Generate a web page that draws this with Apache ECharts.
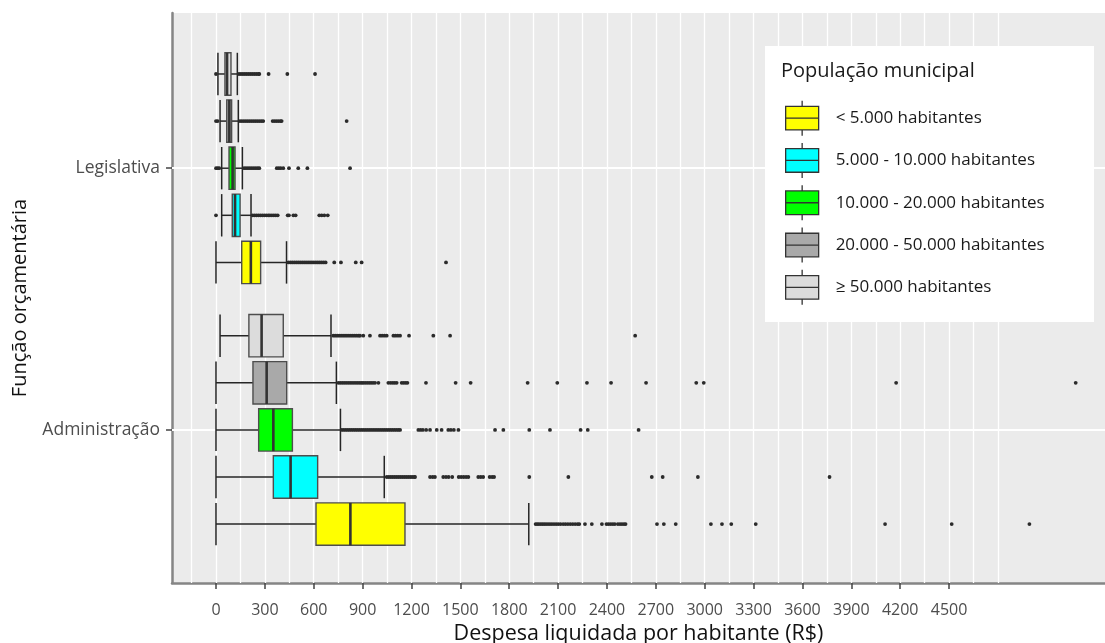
<!DOCTYPE html>
<html>
<head>
<meta charset="utf-8">
<title>Despesa liquidada por habitante</title>
<script src="https://cdn.jsdelivr.net/npm/echarts@6/dist/echarts.min.js"></script>
<style>
  html, body { margin: 0; padding: 0; background: #fff; }
  #chart { width: 1105px; height: 643px; }
</style>
</head>
<body>
<div id="chart"></div>
<script>
// categorias do eixo y (valor 1 = Administração, 2 = Legislativa)
const categories = ['Administração', 'Legislativa']
const groupNames = [
  '< 5.000 habitantes',
  '5.000 - 10.000 habitantes',
  '10.000 - 20.000 habitantes',
  '20.000 - 50.000 habitantes',
  '≥ 50.000 habitantes'
]
const xTicks = [0, 300, 600, 900, 1200, 1500, 1800, 2100, 2400, 2700, 3000, 3300, 3600, 3900, 4200, 4500]
const xGrid = [-150, 0, 150, 300, 450, 600, 750, 900, 1050, 1200, 1350, 1500, 1650, 1800, 1950, 2100, 2250,
  2400, 2550, 2700, 2850, 3000, 3150, 3300, 3450, 3600, 3750, 3900, 4050, 4200, 4350, 4500, 4650, 4800]

// [whisker inferior, Q1, mediana, Q3, whisker superior] -> [Administração, Legislativa]
const boxLt5k = [[0, 614, 825, 1160, 1920], [0, 158, 214, 274, 433]]
const box5to10k = [[0, 352, 458, 624, 1033], [35, 100, 117, 148, 215]]
const box10to20k = [[0, 262, 352, 469, 764], [35, 80, 102, 117, 162]]
const box20to50k = [[0, 227, 311, 434, 739], [25, 66, 82, 96, 137]]
const boxGe50k = [[25, 202, 280, 413, 706], [12, 55, 68, 92, 131]]

// outliers -> [Administração, Legislativa]
const outLt5k = [
  [1962, 1972, 1982, 1993, 2004, 2015, 2026, 2038, 2050, 2062, 2075, 2088, 2101, 2115, 2131, 2145, 2160, 2175,
    2190, 2205, 2220, 2230, 2265, 2307, 2369, 2397, 2410, 2423, 2436, 2448, 2467, 2480, 2492, 2504, 2514,
    2707, 2749, 2822, 3038, 3106, 3163, 3313, 4107, 4516, 4993],
  [445, 457, 469, 481, 493, 505, 517, 529, 541, 553, 565, 577, 589, 601, 613, 625, 637, 649, 661, 673,
    726, 767, 858, 894, 1412]
]
const out5to10k = [
  [1048, 1060, 1072, 1084, 1096, 1108, 1120, 1132, 1144, 1156, 1168, 1180, 1192, 1204, 1216, 1222,
    1314, 1330, 1344, 1395, 1412, 1428, 1450, 1490, 1505, 1520, 1535, 1549, 1610, 1625, 1640, 1680, 1695, 1707,
    1923, 2163, 2675, 2742, 2958, 3766],
  [0, 225, 237, 249, 261, 273, 285, 297, 309, 321, 331, 343, 355, 367, 379, 440, 448, 475, 489, 634, 649, 665, 686]
]
const out10to20k = [
  [772, 784, 796, 808, 820, 832, 844, 856, 868, 880, 892, 904, 916, 928, 940, 952, 964, 976, 988, 1000,
    1012, 1024, 1036, 1048, 1060, 1072, 1084, 1096, 1108, 1120, 1130, 1242, 1256, 1270, 1290, 1314, 1355, 1385,
    1426, 1442, 1460, 1488, 1713, 1764, 1923, 2050, 2238, 2282, 2594],
  [0, 10, 20, 172, 184, 196, 208, 220, 232, 244, 256, 266, 373, 385, 397, 413, 448, 505, 561, 823]
]
const out20to50k = [
  [751, 763, 775, 787, 799, 811, 823, 835, 847, 859, 871, 883, 894, 904, 916, 928, 940, 952, 964, 976, 997,
    1058, 1072, 1085, 1097, 1109, 1140, 1152, 1164, 1175, 1289, 1471, 1563, 1913, 2095, 2277, 2425, 2640,
    2948, 2994, 4175, 5277],
  [0, 10, 147, 159, 171, 183, 195, 207, 219, 231, 243, 255, 267, 279, 290, 348, 360, 372, 384, 396, 403, 802]
]
const outGe50k = [
  [720, 732, 744, 756, 768, 780, 792, 804, 816, 828, 840, 852, 864, 876, 884, 904, 945, 1007, 1020, 1034, 1048,
    1089, 1102, 1116, 1130, 1185, 1334, 1437, 2573],
  [0, 141, 153, 165, 177, 189, 201, 213, 225, 237, 249, 261, 266, 323, 438, 608]
]

const boxes = [boxLt5k, box5to10k, box10to20k, box20to50k, boxGe50k]
const outliers = [outLt5k, out5to10k, out10to20k, out20to50k, outGe50k]
const colors = ['#FFFF00', '#00FFFF', '#00FF00', '#A9A9A9', '#DCDCDC']

const SLOT = 0.18
const BOX_H = 0.162
const FONT = '"Open Sans", "Noto Sans", sans-serif'

function boxRenderer(offset, fill) {
  return function (params, api) {
    const y = api.value(0) + offset
    const lo = api.coord([api.value(1), y])
    const q1 = api.coord([api.value(2), y])
    const md = api.coord([api.value(3), y])
    const q3 = api.coord([api.value(4), y])
    const hi = api.coord([api.value(5), y])
    const h = api.size([0, BOX_H])[1]
    const cy = lo[1]
    const top = cy - h / 2
    const whisker = { stroke: '#262626', lineWidth: 1.5 }
    return {
      type: 'group',
      children: [
        { type: 'line', shape: { x1: lo[0], y1: cy, x2: hi[0], y2: cy }, style: whisker },
        { type: 'line', shape: { x1: lo[0], y1: top, x2: lo[0], y2: top + h }, style: whisker },
        { type: 'line', shape: { x1: hi[0], y1: top, x2: hi[0], y2: top + h }, style: whisker },
        {
          type: 'rect',
          shape: { x: q1[0], y: top, width: q3[0] - q1[0], height: h },
          style: { fill: fill, stroke: '#4d4d4d', lineWidth: 1.4 }
        },
        { type: 'line', shape: { x1: md[0], y1: top, x2: md[0], y2: top + h }, style: { stroke: '#333', lineWidth: 2.6 } }
      ]
    }
  }
}

const series = [{
  type: 'line',
  data: [],
  z: 1,
  silent: true,
  markLine: {
    z: 1,
    silent: true,
    symbol: ['none', 'none'],
    animation: false,
    label: { show: false },
    emphasis: { disabled: true },
    lineStyle: { color: '#ffffff', type: 'solid', width: 1.3 },
    data: xGrid.map(v => ({ xAxis: v }))
      .concat([1, 2].map(v => ({ yAxis: v, lineStyle: { color: '#ffffff', type: 'solid', width: 2 } })))
  }
}]

boxes.forEach((b, g) => {
  const offset = (g - 2) * SLOT
  series.push({
    name: groupNames[g],
    type: 'custom',
    z: 2,
    renderItem: boxRenderer(offset, colors[g]),
    itemStyle: { color: colors[g], borderColor: '#333', borderWidth: 1.3 },
    encode: { x: [1, 2, 3, 4, 5], y: 0 },
    data: b.map((v, i) => [i + 1].concat(v))
  })
  const pts = []
  outliers[g].forEach((list, i) => {
    list.forEach(v => pts.push([v, i + 1 + offset]))
  })
  series.push({
    type: 'scatter',
    z: 3,
    symbol: 'circle',
    symbolSize: 3.8,
    itemStyle: { color: '#2b2b2b', opacity: 1 },
    silent: true,
    data: pts
  })
})

const chart = echarts.init(document.getElementById('chart'), null, { renderer: 'canvas' })
chart.setOption({
  animation: false,
  backgroundColor: '#ffffff',
  grid: {
    left: 172, right: 0, top: 13, bottom: 60,
    show: true, backgroundColor: '#EBEBEB', borderWidth: 0,
    containLabel: false, outerBoundsMode: 'none'
  },
  xAxis: {
    type: 'value',
    min: -270,
    max: 5457,
    name: 'Despesa liquidada por habitante (R$)',
    nameLocation: 'middle',
    nameGap: 40,
    nameTextStyle: { fontSize: 21.5, color: '#111', fontFamily: FONT },
    axisLine: { show: true, onZero: false, lineStyle: { color: '#858585', width: 2.5 } },
    axisTick: { show: true, customValues: xTicks, length: 6, lineStyle: { color: '#444', width: 1.5 } },
    axisLabel: {
      customValues: xTicks,
      formatter: v => String(v),
      color: '#4D4D4D', fontSize: 16, margin: 19, fontFamily: FONT
    },
    splitLine: { show: false }
  },
  yAxis: {
    type: 'value',
    min: 0.415,
    max: 2.593,
    name: 'Função orçamentária',
    nameLocation: 'middle',
    nameGap: 142,
    nameRotate: 90,
    nameTextStyle: { fontSize: 20, color: '#111', fontFamily: FONT },
    axisLine: { show: true, onZero: false, lineStyle: { color: '#858585', width: 2.5 } },
    axisTick: { show: true, customValues: [1, 2], length: 6, lineStyle: { color: '#444', width: 1.5 } },
    axisLabel: {
      customValues: [1, 2],
      formatter: v => categories[Math.round(v) - 1],
      color: '#4D4D4D', fontSize: 17.5, margin: 12, fontFamily: FONT
    },
    splitLine: { show: false }
  },
  graphic: [
    {
      type: 'rect', left: 765, top: 46, z: 10,
      shape: { width: 329, height: 276 },
      style: { fill: '#ffffff' }
    },
    {
      type: 'text', left: 781, top: 61, z: 11,
      style: { text: 'População municipal', fontSize: 20, fill: '#1a1a1a', fontFamily: FONT }
    }
  ],
  legend: {
    orient: 'vertical',
    left: 785,
    top: 100,
    padding: 0,
    z: 12,
    itemWidth: 33,
    itemHeight: 35,
    itemGap: 6,
    selectedMode: false,
    icon: 'path://M16.5,0L16.5,5.7M0,5.7L33,5.7L33,29.3L0,29.3ZM0,17.5L33,17.5M16.5,29.3L16.5,35',
    itemStyle: { borderColor: '#333', borderWidth: 1.3 },
    textStyle: { fontSize: 17, color: '#1a1a1a', fontFamily: FONT, padding: [0, 0, 0, 12] },
    data: groupNames
  },
  series: series
})
</script>
</body>
</html>
